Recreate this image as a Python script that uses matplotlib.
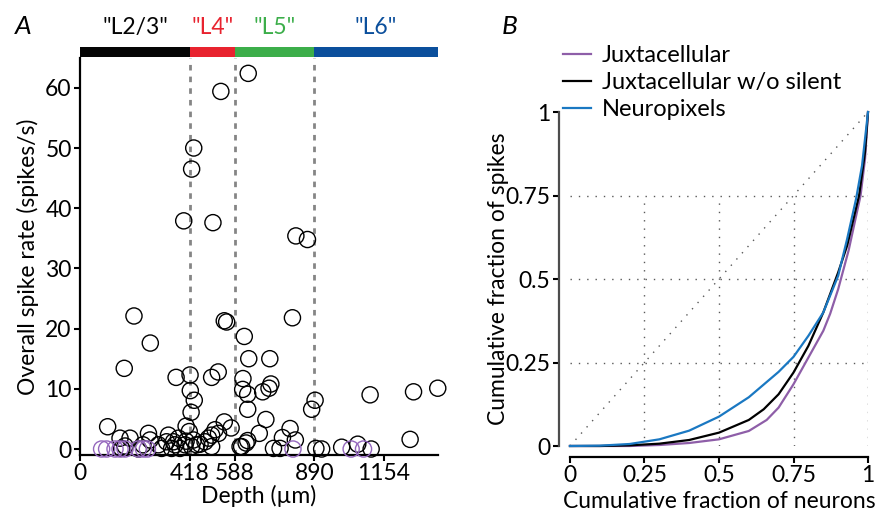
import matplotlib
matplotlib.use("Agg")
import matplotlib.pyplot as plt
import matplotlib.transforms as mtransforms
from matplotlib.patches import Rectangle

plt.rcParams['font.family'] = ['Lato', 'DejaVu Sans']

# depth (um) and overall spike rate (spikes/s) per juxtacellular cell
depth = [639, 535, 432, 424, 394, 505, 820, 864, 205, 548, 557, 807, 267, 624,
         168, 641, 721, 365, 418, 500, 525, 619, 725, 718, 694, 618, 637, 419,
         434, 422, 637, 893, 880, 1102, 1267, 1359, 1254, 105, 403, 415, 548,
         574, 706, 681, 798, 769, 818, 760, 896, 918, 994, 1055, 1106, 614,
         631, 637, 735, 374, 513, 500, 526, 488, 475, 500, 431, 443, 424, 399,
         380, 608, 152, 190, 260, 266, 298, 329, 336, 361, 158, 222, 310, 348,
         355, 171, 239, 456, 403]
rate = [62.4, 59.4, 50.0, 46.5, 37.9, 37.6, 35.4, 34.8, 22.1, 21.3, 21.1, 21.8,
        17.6, 18.7, 13.4, 15.0, 15.0, 11.9, 12.3, 11.9, 12.8, 11.7, 10.8, 10.1,
        9.5, 9.9, 9.1, 9.7, 8.1, 6.1, 6.6, 8.1, 6.6, 9.0, 9.5, 10.1, 1.6, 3.7,
        3.8, 2.9, 4.5, 3.5, 4.9, 2.6, 3.4, 1.9, 1.5, 0.1, 0.1, 0.0, 0.3, 0.8,
        0.0, 0.4, 1.0, 1.4, 0.1, 1.8, 3.2, 2.3, 2.6, 1.8, 1.2, 0.4, 1.5, 0.7,
        0.4, 0.7, 0.1, 0.4, 1.8, 1.8, 2.6, 1.5, 0.7, 1.2, 2.3, 0.7, 0.1, 0.0,
        0.1, 0.1, 1.2, 0.5, 0.7, 0.8, 1.3]

# silent cells
silent_depth = [82, 101, 133, 152, 171, 222, 241, 256, 809, 1030, 1077]
silent_rate = [0] * len(silent_depth)

layer_names = ['"L2/3"', '"L4"', '"L5"', '"L6"']
layer_edges = [0, 418, 588, 890, 1360]
layer_colors = ['#050505', '#e8232f', '#3cae4a', '#0b4f9c']
depth_ticks = [0, 418, 588, 890, 1154]

# Lorenz curves: cumulative fraction of neurons vs spikes
frac_juxta = [0, 0.2, 0.3, 0.4, 0.5, 0.6, 0.66, 0.7, 0.75, 0.8, 0.85, 0.873,
              0.9, 0.935, 0.975, 0.99, 1.0]
spk_juxta = [0, 0.0, 0.003, 0.009, 0.02, 0.045, 0.078, 0.115, 0.185, 0.265,
             0.345, 0.396, 0.47, 0.586, 0.75, 0.86, 1.0]
frac_nosil = [0, 0.1, 0.2, 0.3, 0.4, 0.5, 0.6, 0.65, 0.7, 0.75, 0.8, 0.85,
              0.9, 0.93, 0.97, 0.99, 1.0]
spk_nosil = [0, 0.0, 0.002, 0.007, 0.018, 0.04, 0.078, 0.11, 0.155, 0.22,
             0.30, 0.40, 0.52, 0.6, 0.75, 0.88, 1.0]
frac_npx = [0, 0.1, 0.2, 0.3, 0.4, 0.5, 0.6, 0.7, 0.75, 0.8, 0.85, 0.9, 0.93,
            0.96, 0.98, 1.0]
spk_npx = [0, 0.001, 0.006, 0.02, 0.046, 0.088, 0.146, 0.222, 0.267, 0.33,
           0.40, 0.51, 0.62, 0.74, 0.84, 1.0]

fig = plt.figure(figsize=(8.91, 5.13), dpi=100)

# ---- panel A ----
ax = fig.add_axes([0.0898, 0.113, 0.4018, 0.7745])
ax.vlines(layer_edges[1:4], -1, 65, colors='0.52', linestyles=(0, (2, 2.2)),
          linewidth=2, zorder=1)
ax.scatter(depth, rate, s=135, facecolors='none', edgecolors='k',
           linewidths=1.0, clip_on=False, zorder=3)
ax.scatter(silent_depth, silent_rate, s=135, facecolors='none',
           edgecolors='#9467bd', linewidths=1.0, clip_on=False, zorder=4)
ax.set_xlim(0, 1360)
ax.set_ylim(-1, 65)
ax.set_xticks(depth_ticks)
ax.set_yticks(range(0, 61, 10))
ax.tick_params(labelsize=16.5, width=1.5, length=4, pad=2)
ax.set_xlabel('Depth (µm)', fontsize=16.5)
ax.set_ylabel('Overall spike rate (spikes/s)', fontsize=16.5)
ax.xaxis.set_label_coords(0.5, -0.075)
ax.yaxis.set_label_coords(-0.115, 0.5)
for s in ['top', 'right']:
    ax.spines[s].set_visible(False)
for s in ['left', 'bottom']:
    ax.spines[s].set_linewidth(1.6)

trans = mtransforms.blended_transform_factory(ax.transData, ax.transAxes)
for i in range(4):
    x0, x1 = layer_edges[i], layer_edges[i + 1]
    ax.add_patch(Rectangle((x0, 1.003), x1 - x0, 0.025, transform=trans,
                           color=layer_colors[i], clip_on=False, lw=0))
    ax.text((x0 + x1) / 2, 1.076, layer_names[i], transform=trans,
            color=layer_colors[i], ha='center', va='center', fontsize=16.5)

fig.text(0.017, 0.948, 'A', fontsize=19, style='italic', va='center')

# ---- panel B ----
bx = fig.add_axes([0.6397, 0.1306, 0.3345, 0.651])
grid_kw = dict(color='0.35', linestyle=(0, (1, 5)), linewidth=1.0, zorder=1)
for g in [0.25, 0.5, 0.75]:
    bx.plot([0, 1], [g, g], **grid_kw)
    bx.plot([g, g], [0, 0.75], **grid_kw)
bx.plot([1, 1], [0, 1], **grid_kw)
bx.plot([0, 1], [0, 1], **grid_kw)

bx.plot(frac_juxta, spk_juxta, color='#8e5ea8', lw=1.6, clip_on=False,
        label='Juxtacellular')
bx.plot(frac_nosil, spk_nosil, color='k', lw=1.6, clip_on=False,
        label='Juxtacellular w/o silent')
bx.plot(frac_npx, spk_npx, color='#1a78c2', lw=1.6, clip_on=False,
        label='Neuropixels')

bx.set_xlim(0, 1)
bx.set_ylim(0, 1)
ticks = [0, 0.25, 0.5, 0.75, 1]
tick_labels = ['0', '0.25', '0.5', '0.75', '1']
bx.set_xticks(ticks)
bx.set_xticklabels(tick_labels)
bx.set_yticks(ticks)
bx.set_yticklabels(tick_labels)
bx.tick_params(labelsize=16.5, width=1.5, length=4, pad=2)
bx.spines['left'].set_position(('outward', 8))
bx.spines['bottom'].set_position(('outward', 8))
bx.spines['left'].set_color('0.3')
for s in ['top', 'right']:
    bx.spines[s].set_visible(False)
for s in ['left', 'bottom']:
    bx.spines[s].set_linewidth(1.6)
bx.set_xlabel('Cumulative fraction of neurons', fontsize=16.5)
bx.set_ylabel('Cumulative fraction of spikes', fontsize=16.5)
bx.xaxis.set_label_coords(0.5, -0.135)
bx.yaxis.set_label_coords(-0.205, 0.5)

bx.legend(loc='upper left', bbox_to_anchor=(0.632, 0.912),
          bbox_transform=fig.transFigure, frameon=False, fontsize=17,
          handlelength=1.2, handletextpad=0.45, labelspacing=0.25,
          borderaxespad=0, borderpad=0)

fig.text(0.563, 0.948, 'B', fontsize=19, style='italic', va='center')

fig.savefig('out.png', dpi=100)
